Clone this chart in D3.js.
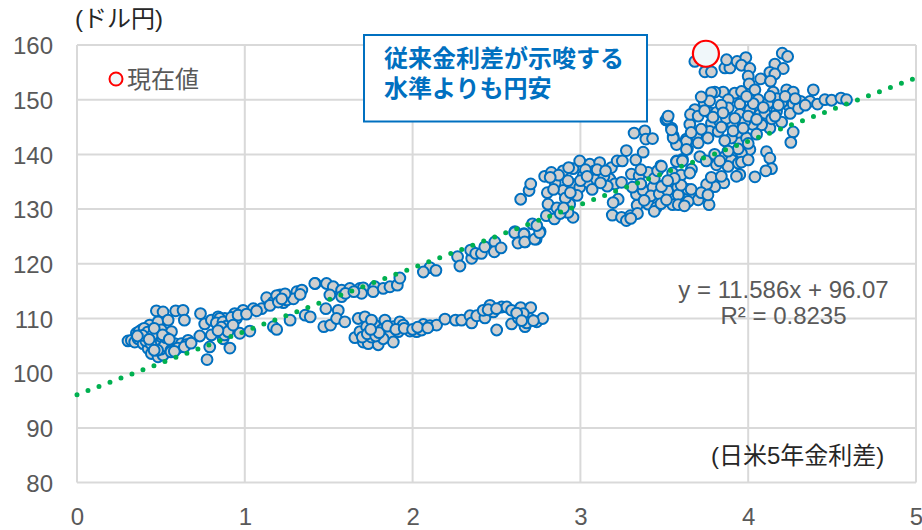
<!DOCTYPE html>
<html><head><meta charset="utf-8">
<script src="https://cdn.jsdelivr.net/npm/d3@7/dist/d3.min.js"></script>
<style>html,body{margin:0;padding:0;background:#fff}svg{display:block}text{font-family:"Liberation Sans","Noto Sans CJK JP",sans-serif}</style>
</head><body><svg id="c" width="922" height="530"></svg>
<script>
const xTicks=[0,1,2,3,4,5];
const yTicks=[80,90,100,110,120,130,140,150,160];
const trendSlope=11.586, trendIntercept=96.07;
const currentPoint=[3.748,158.4];
const clusterA=[[.473,111.4],[.513,111.2],[.588,111.4],[.632,111.5],[.64,109.7],[.736,110.9],[.304,105.9],[.324,106],[.344,105.7],[.364,106.3],[.384,107.9],[.354,107.3],[.404,106.6],[.394,105.4],[.424,104.5],[.443,103.6],[.483,103],[.513,103.3],[.433,108.8],[.483,109.4],[.503,107.9],[.543,109.7],[.563,107.6],[.463,106],[.503,105.7],[.543,104.8],[.583,105.4],[.622,105.4],[.662,106],[.732,106.8],[.801,107],[.791,104.8],[.911,104.6],[.871,106.3],[.775,102.5],[.761,109],[.801,109.7],[.841,110.3],[.881,110],[.9,109.4],[.95,110],[.97,107.3],[1.03,107.7],[.94,110.9],[.99,111.5],[1.05,111.8],[1.1,111.8],[1.13,113.8],[1.17,113],[1.23,112.9],[1.21,114.3],[1.27,113.7],[1.31,114.9],[1.34,115.2],[1.42,116.4],[1.17,108.5],[1.19,108],[1.27,109.7],[1.36,110.6],[1.39,110.3],[.37,107.6],[.4,108.2],[.42,107.5],[.45,107],[.47,105],[.41,105.9],[.5,104.4],[.52,105],[.53,106.5],[.44,105.4],[.48,104.2],[.56,104.2],[.6,104.6],[.65,105.2],[.56,103.9],[.85,110],[.83,109.2],[.87,109.4],[.89,108.6],[.92,110.2],[.86,108.4],[.96,110.6],[1.01,110.8],[1.15,112.4],[1.19,114.2],[1.25,113.4],[1.29,113.6],[1.33,114.4],[1.24,114.5],[.39,106.9],[.36,106.8],[.43,106.2],[.46,108.2],[.51,107],[.55,106.2],[.46,104.2],[.58,104],[.64,104.8],[.68,105.5],[.88,107],[.9,107.6],[.93,108.8],[.84,107.8],[1.07,111.4],[1.2,113],[1.22,113.6]];
const upperBand=[[1.417,116.4],[1.487,116.4],[1.527,115.8],[1.577,115.2],[1.507,114.3],[1.577,114],[1.626,115.5],[1.686,115.5],[1.706,115.6],[1.775,115.8],[1.765,114.9],[1.825,115.5],[1.865,115.8],[1.909,116.1],[1.924,117.4],[1.696,114.6],[1.6,114.6],[1.65,114.9],[2.103,119.3],[2.064,118.5],[2.139,118.8],[2.268,121.3],[2.282,119.6],[2.352,121],[2.346,122.5],[2.376,121.9],[2.41,121.9],[2.43,123.1],[2.49,124],[2.487,122.2],[2.527,122.9],[2.61,125.9],[2.664,125.5],[2.636,124],[2.67,124],[2.736,124.5],[2.76,125.9]];
const lowerBand=[[1.483,111.8],[1.557,111.5],[1.471,108.5],[1.511,108.8],[1.547,110],[1.596,109.4],[1.676,110],[1.716,110.3],[1.656,106.5],[1.686,107.6],[1.706,105.7],[1.736,105.4],[1.795,105.2],[1.755,106.6],[1.726,108.5],[1.775,108.8],[1.755,109.7],[1.835,109.7],[1.815,107.9],[1.865,107],[1.885,105.7],[1.825,106.3],[1.885,108.5],[1.924,109.4],[1.944,108.8],[1.915,107.6],[1.984,107.7],[2.024,107.6],[2.064,108.9],[2.054,107.9],[2.103,108.7],[2.143,108.8],[2.193,109.9],[2.256,109.7],[2.292,109.7],[2.342,110.5],[2.352,109.2],[2.382,110.5],[2.431,110.1],[2.421,111.5],[2.461,112.4],[2.481,111.2],[2.531,112.1],[2.561,112.1],[2.59,111.5],[2.644,112],[2.704,112],[2.59,109],[2.63,110.1],[2.67,108.5],[2.696,110],[2.74,109.4],[2.775,110],[2.501,107.9],[2.66,110.9],[1.7,106.6],[1.73,107.2],[1.78,106.8],[1.8,107.4],[1.75,108],[1.85,108.6],[1.9,108],[1.95,108.2],[2,108],[2.03,108.4],[2.09,108.3],[2.45,111.6],[2.5,111.8],[2.62,111],[2.68,109.2],[2.72,109.6],[2.65,109.6]];
const midCluster=[[2.644,131.8],[2.694,133.4],[2.704,134.6],[2.608,125.7],[2.664,125.4],[2.628,123.8],[2.668,124],[2.728,124.5],[2.757,125.7],[2.714,127.3],[2.74,127],[2.797,128.8],[2.807,130.9],[2.803,133],[2.787,136],[2.827,136.7],[2.897,137],[2.845,128.2],[2.897,133.4],[2.936,130.9],[2.956,128.5],[2.926,129.4],[2.956,134.5],[2.926,135.2],[2.956,137.4],[3.016,136.1],[2.996,138.8],[3.056,138.2],[3.085,137],[3.115,138.5],[3.125,136.7],[3.185,137.6],[3.219,138.8],[3.25,138.8],[3.274,140.7],[3.33,139],[3.374,140.4],[2.996,134],[3.046,134.9],[3.095,135.5],[3.175,135.5],[3.205,134.6],[3.245,134.9],[3.225,131.8],[3.195,131.2],[3.19,128.9],[3.245,128.5],[3.298,128.8],[3.274,127.9],[3.338,130.7],[3.334,132.7],[3.304,136.4],[3.35,136.1],[3.404,136.7],[3.374,133.4],[3.404,130.9],[3.433,134],[3.493,134.3],[3.453,130.3],[3.507,131.5],[3.586,132.7],[3.612,131.2],[3.682,132.4],[3.479,137.9],[3.573,138.8],[3.608,139.1],[3.662,137.3],[3.32,143.9],[3.384,144.3],[3.39,142.8],[3.43,142.9],[3.543,144.8],[3.553,143.4],[3.573,142.1],[3.632,142.8],[3.652,145.5],[3.638,141],[3.7,143.4],[3.51,146.3],[2.85,134.8],[2.87,136.2],[2.91,132],[2.98,132.5],[3.03,137.2],[3.14,136],[3.16,134.2],[3.07,133.6],[2.86,130.2],[2.88,129.2],[3.36,134.6],[3.31,134],[3.42,132.4],[3.47,132.8],[3.38,131.6],[3.55,130.8],[3.64,133.6],[3.52,133.4],[3.44,129.6],[3.34,129.2],[3.3,128.3],[2.82,135.8],[2.93,137.6],[3,135.2],[3.04,136],[3.1,137.2],[3.15,137],[3.12,134.8],[2.94,133],[2.9,130.2],[2.84,133.6],[3.44,135.6],[3.46,137],[3.55,136.6],[3.6,136.2],[3.48,131],[3.58,134],[3.36,137.2]];
const topCluster=[[3.682,157],[3.742,155.1],[3.781,155.1],[3.861,155.8],[3.891,155.8],[3.871,157.3],[3.934,157],[3.986,157.7],[3.96,156.3],[4.01,155.7],[4,154.3],[4.006,152.9],[4.203,158.5],[4.235,157.9],[4.159,156.5],[4.209,155.7],[4.129,155],[4.159,154.7],[4.074,153.8],[4.133,153.4],[4.04,151.8],[3.851,151.4],[3.801,151.4],[3.781,151.3],[3.92,151.2],[3.96,151.5],[3.738,149.4],[3.682,148.2],[3.656,147.3],[3.702,147],[3.771,147.6],[3.811,147.7],[3.881,150],[3.881,148.5],[3.95,149.2],[3.95,147.3],[4.01,148.2],[4.06,150],[4.119,149.4],[4.149,151.4],[4.229,151.8],[4.268,151.4],[4.169,147.9],[4.239,149],[4.268,149.2],[4.312,149.7],[4.368,149.7],[4.413,149.2],[4.388,151.8],[4.457,150],[4.497,149.9],[4.553,150.3],[4.586,150],[4.268,144.1],[4.254,142.2],[4.199,145.9],[4.129,144.8],[4.08,145.4],[4.026,145.5],[4.07,147.3],[3.95,143.7],[3.907,145.5],[3.781,145.7],[3.771,144.2],[3.821,144.2],[3.692,143.3],[3.702,142.1],[3.632,142.4],[3.632,140.9],[3.712,139.6],[3.573,141.8],[3.553,143],[3.543,144.5],[3.517,146.5],[3.523,147],[4.01,140.9],[3.96,140.2],[3.95,142.1],[3.861,139.6],[3.811,138.1],[3.901,139],[3.941,138.4],[4.109,140.5],[4.129,139.3],[4.139,137.4],[4.105,137],[4.04,135.9],[3.95,136.3],[3.93,136],[3.855,134.8],[3.801,134.1],[3.752,134.5],[3.682,132.5],[3.767,130.8],[3.702,131.7],[3.642,131.4],[3.583,132.6],[3.583,130.8],[3.513,131.7],[3.483,134.1],[3.483,137.8],[3.573,138.7],[3.608,138.8],[3.652,136.6],[3.83,146],[3.87,146.6],[3.98,146],[4.1,147.5],[4.14,146.5],[4.2,149.5],[4.17,150.2],[4.03,149.3],[3.99,150.6],[3.84,149],[3.77,149.8],[3.72,150.5],[3.9,143],[3.86,142.5],[3.99,143],[4.05,143.7],[4.16,147],[4.25,147.5],[4.3,148.4],[4.34,149],[3.96,138.6],[3.88,137.8],[3.75,138.8],[4.0,139],[3.6,134.4],[3.56,135.6],[3.52,135.2],[3.74,148],[3.79,146.8],[3.85,147.6],[3.92,146.6],[4,147],[4.05,146.4],[4.09,148.6],[4.13,150.6],[4.18,149],[4.22,150.6],[4.28,150.2],[3.91,144.3],[3.97,144.8],[3.84,145],[3.76,143],[3.72,144.6],[3.66,144],[3.94,141],[4,142],[3.88,140.6],[3.8,140],[3.83,138.8],[3.78,135.8],[3.84,136],[3.66,133.6],[3.72,133],[3.62,130.6],[3.76,132.6]];
const allPoints=[...clusterA,...upperBand,...lowerBand,...midCluster,...topCluster];

const svg=d3.select("#c");
const x=d3.scaleLinear().domain([0,5]).range([77,916]);
const y=d3.scaleLinear().domain([80,160]).range([482.6,45]);
const gridColor="#d9d9d9", inkColor="#595959";

svg.append("g").selectAll("line").data(yTicks).join("line")
 .attr("x1",x(0)).attr("x2",x(5)).attr("y1",d=>y(d)).attr("y2",d=>y(d)).attr("stroke",gridColor).attr("stroke-width",2);
svg.append("g").selectAll("line").data(xTicks).join("line")
 .attr("x1",d=>x(d)).attr("x2",d=>x(d)).attr("y1",y(160)).attr("y2",y(80)).attr("stroke",gridColor).attr("stroke-width",2);

const xAxis=svg.append("g").attr("transform",`translate(0,${y(80)})`).call(d3.axisBottom(x).tickValues(xTicks).tickSize(0).tickPadding(20).tickFormat(d3.format("d")));
const yAxis=svg.append("g").attr("transform",`translate(${x(0)},0)`).call(d3.axisLeft(y).tickValues(yTicks).tickSize(0).tickPadding(24).tickFormat(d3.format("d")));
[xAxis,yAxis].forEach(a=>{a.select(".domain").remove();a.selectAll("text").attr("fill",inkColor).style("font-size","24px").style("font-family",'"Liberation Sans"');});
xAxis.selectAll("text").attr("dy","0.93em");
yAxis.selectAll("text").attr("dy","0.36em");

svg.append("g").selectAll("circle").data(allPoints).join("circle")
 .attr("cx",d=>x(d[0])).attr("cy",d=>y(d[1])).attr("r",5.4).attr("fill","#cfcfcf").attr("stroke","#0070c0").attr("stroke-width",2);

svg.append("line").attr("x1",x(0)).attr("y1",y(trendIntercept)).attr("x2",x(5)).attr("y2",y(trendIntercept+5*trendSlope))
 .attr("stroke","#00b050").attr("stroke-width",5).attr("stroke-linecap","round").attr("stroke-dasharray","0 11.75");

svg.append("circle").attr("cx",x(currentPoint[0])).attr("cy",y(currentPoint[1])).attr("r",13).attr("fill","#f0f7fa").attr("stroke","#ff0000").attr("stroke-width",2.2);

svg.append("circle").attr("cx",116).attr("cy",79).attr("r",6.5).attr("fill","#f0f7fa").attr("stroke","#ff0000").attr("stroke-width",2);
svg.append("text").attr("x",127).attr("y",88).attr("fill",inkColor).style("font-size","24px").text("現在値");
svg.append("text").attr("x",75).attr("y",27).attr("fill","#262626").style("font-size","24px").text("(ドル円)");

svg.append("rect").attr("x",364).attr("y",35).attr("width",283).attr("height",86.5).attr("fill","#fff").attr("stroke","#0070c0").attr("stroke-width",2);
svg.append("text").attr("x",384).attr("y",67).attr("fill","#0070c0").style("font-size","24px").style("font-weight","700").text("従来金利差が示唆する");
svg.append("text").attr("x",384).attr("y",97).attr("fill","#0070c0").style("font-size","24px").style("font-weight","700").text("水準よりも円安");

svg.append("text").attr("x",783.5).attr("y",298).attr("text-anchor","middle").attr("fill",inkColor).style("font-size","24px").text("y = 11.586x + 96.07");
svg.append("text").attr("x",783.5).attr("y",324).attr("text-anchor","middle").attr("fill",inkColor).style("font-size","24px").text("R² = 0.8235");
svg.append("text").attr("x",711).attr("y",464).attr("fill","#262626").style("font-size","24px").text("(日米5年金利差)");
</script></body></html>
